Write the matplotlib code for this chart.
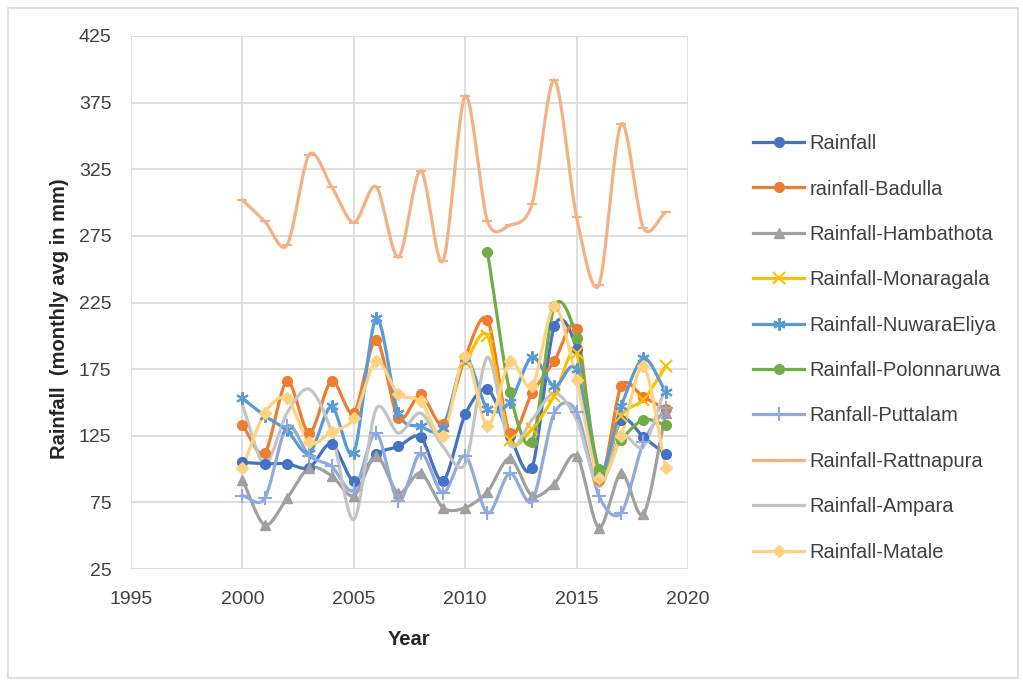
import numpy as np
import matplotlib
matplotlib.use("Agg")
import matplotlib.pyplot as plt
from matplotlib.patches import Rectangle

years = list(range(2000, 2020))
nan = float("nan")

rainfall = [105, 104, 104, 101, 119, 91, 111, 117, 124, 91, 141, 160, 125, 101, 207, 190, 94, 137, 124, 111]
badulla = [133, 112, 166, 127, 166, 142, 197, 138, 156, 134, 184, 212, 127, 157, 181, 205, 92, 162, 154, 145]
hambathota = [92, 58, 78, 101, 95, 80, 110, 82, 97, 71, 71, 83, 108, 80, 89, 110, 56, 97, 66, 142]
monaragala = [nan, nan, nan, nan, nan, nan, nan, nan, nan, nan, 180, 200, 122, 130, 155, 187, 95, 140, 152, 177]
nuwaraeliya = [153, 140, 129, 112, 147, 112, 213, 142, 132, 131, 183, 145, 150, 184, 162, 175, 95, 147, 183, 158]
polonnaruwa = [nan, nan, nan, nan, nan, nan, nan, nan, nan, nan, nan, 263, 158, 120, 222, 198, 100, 122, 137, 133]
puttalam = [80, 78, 132, 110, 102, 84, 127, 76, 112, 82, 110, 67, 97, 76, 142, 143, 80, 67, 120, 146]
rattnapura = [302, 286, 268, 336, 312, 285, 312, 259, 324, 256, 380, 286, 283, 299, 392, 289, 238, 359, 281, 293]
ampara = [148, 104, 142, 160, 128, 62, 145, 127, 142, 117, 104, 184, 118, 137, 157, 137, 87, 125, 117, 162]
matale = [101, 142, 153, 120, 128, 138, 181, 156, 151, 125, 185, 132, 181, 162, 222, 167, 93, 125, 177, 101]

labels = ["Rainfall", "rainfall-Badulla", "Rainfall-Hambathota", "Rainfall-Monaragala",
          "Rainfall-NuwaraEliya", "Rainfall-Polonnaruwa", "Ranfall-Puttalam",
          "Rainfall-Rattnapura", "Rainfall-Ampara", "Rainfall-Matale"]
series = [rainfall, badulla, hambathota, monaragala, nuwaraeliya, polonnaruwa,
          puttalam, rattnapura, ampara, matale]
colors = ["#4472C4", "#ED7D31", "#A0A0A0", "#FFC000", "#5B9BD5", "#70AD47",
          "#8FAADC", "#F4B183", "#C4C4C4", "#FFD27F"]
markers = ["o", "o", "^", "x", (6, 2, 0), "o", "+", "_", None, "D"]
msizes = [7, 7, 7, 8, 9, 7, 10, 7, 0, 6]

plt.rcParams['font.family'] = ['Liberation Sans', 'DejaVu Sans']


def smooth(xs, ys, n=20):
    xs = np.asarray(xs, float)
    ys = np.asarray(ys, float)
    if len(xs) < 2:
        return xs, ys
    P = np.column_stack([xs, ys])
    P = np.vstack([P[0] - (P[1] - P[0]), P, P[-1] + (P[-1] - P[-2])])
    outx, outy = [], []
    t = np.linspace(0, 1, n, endpoint=False)
    for i in range(1, len(P) - 2):
        p0, p1, p2, p3 = P[i - 1], P[i], P[i + 1], P[i + 2]
        m1 = (p2 - p0) / 2 * 0.9
        m2 = (p3 - p1) / 2 * 0.9
        h00 = 2 * t**3 - 3 * t**2 + 1
        h10 = t**3 - 2 * t**2 + t
        h01 = -2 * t**3 + 3 * t**2
        h11 = t**3 - t**2
        pts = (np.outer(h00, p1) + np.outer(h10, m1) + np.outer(h01, p2) + np.outer(h11, m2))
        outx.extend(pts[:, 0]); outy.extend(pts[:, 1])
    outx.append(P[-2][0]); outy.append(P[-2][1])
    return np.array(outx), np.array(outy)


fig = plt.figure(figsize=(10.23, 6.81), dpi=100)
ax = fig.add_axes([131 / 1023, 1 - 569 / 681, 557 / 1023, 533 / 681])

for vals, lab, c, m, ms in zip(series, labels, colors, markers, msizes):
    x = np.array(years, float)
    y = np.array(vals, float)
    ok = ~np.isnan(y)
    sx, sy = smooth(x[ok], y[ok])
    ax.plot(sx, sy, color=c, lw=2.3, solid_capstyle="round", zorder=3)
    if m is not None:
        ax.plot(x[ok], y[ok], linestyle="none", marker=m, color=c, ms=ms,
                mew=1.5 if m in ("x", "+", "_", (6, 2, 0)) else 1, zorder=4)

ax.set_xlim(1995, 2020)
ax.set_ylim(25, 425)
ax.set_xticks(range(1995, 2021, 5))
ax.set_yticks(range(25, 426, 50))
ax.grid(True, color="#D9D9D9", lw=1.2)
ax.set_axisbelow(True)
for s in ax.spines.values():
    s.set_visible(False)
ax.tick_params(length=0, labelsize=14, colors="#404040")
ax.tick_params(axis="x", pad=15.5)
ax.tick_params(axis="y", pad=14)
ax.set_xlabel("Year", fontsize=14.5, fontweight="bold", color="#262626", labelpad=16)
ax.set_ylabel("Rainfall  (monthly avg in mm)", fontsize=14.5, fontweight="bold",
              color="#262626")
ax.yaxis.set_label_coords(-0.111, 0.47)

handles = []
for lab, c, m, ms in zip(labels, colors, markers, msizes):
    h, = ax.plot([], [], color=c, lw=2.3, marker=m, ms=ms,
                 mew=1.5 if m in ("x", "+", "_", (6, 2, 0)) else 1)
    handles.append(h)
leg = fig.legend(handles, labels, loc="upper left", bbox_to_anchor=(735 / 1023, 1 - 116 / 681),
                 frameon=False, fontsize=14.5, handlelength=2.55, labelspacing=1.31,
                 handletextpad=0.25, labelcolor="#404040")

fig.patches.append(Rectangle((8 / 1023, 3 / 681), 1010 / 1023, 670 / 681, transform=fig.transFigure,
                             fill=False, edgecolor="#D9D9D9", lw=1.2))

fig.savefig("out.png", dpi=100, facecolor="white")
